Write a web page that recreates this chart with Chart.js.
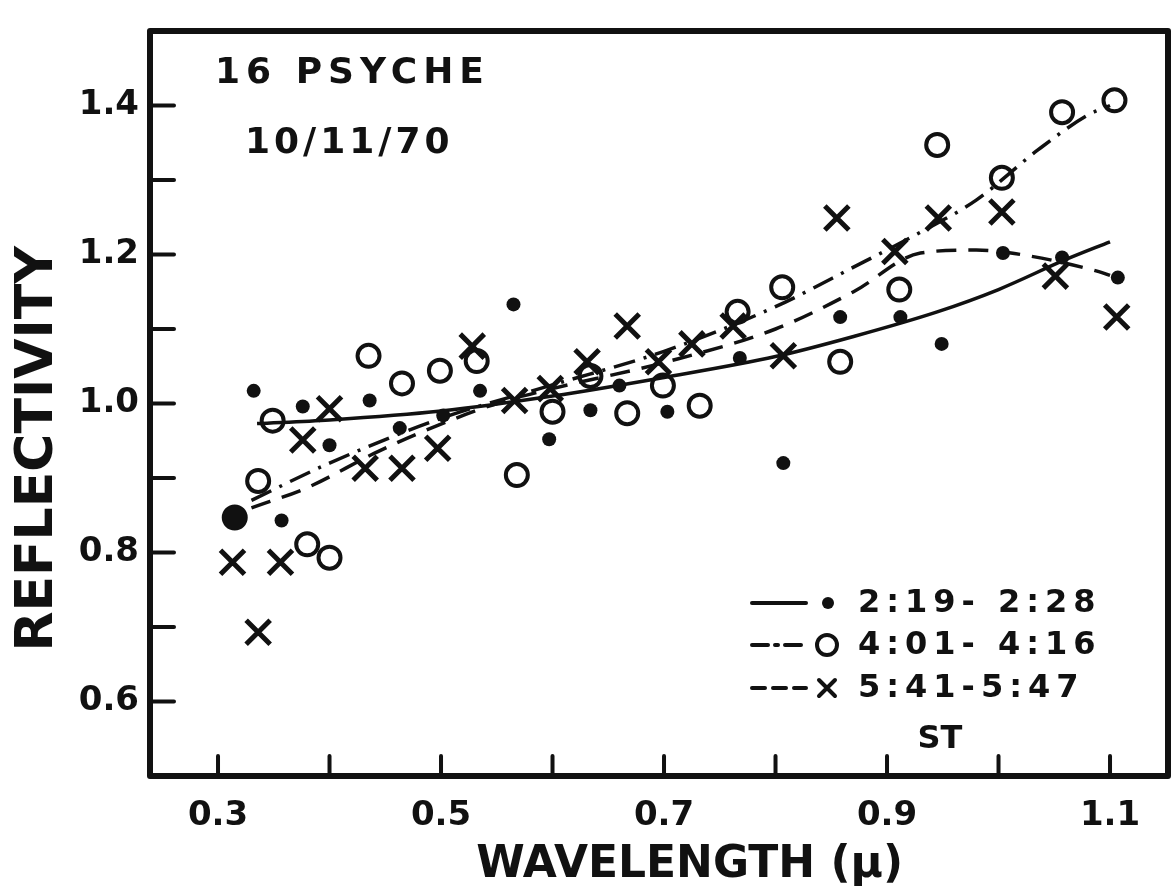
<!DOCTYPE html>
<html>
<head>
<meta charset="utf-8">
<title>16 Psyche reflectivity</title>
<script src="https://cdn.jsdelivr.net/npm/chart.js@4.4.0/dist/chart.umd.min.js"></script>
<style>
  html, body { margin: 0; padding: 0; background: #fff; }
  #wrap { width: 1174px; height: 896px; }
</style>
</head>
<body>
<div id="wrap"><canvas id="psycheChart" width="1174" height="896"></canvas></div>
<script>
// ---- Data ----
const xTickValues = [0.3, 0.4, 0.5, 0.6, 0.7, 0.8, 0.9, 1.0, 1.1];
const xTickLabels = ['0.3', '', '0.5', '', '0.7', '', '0.9', '', '1.1'];
const yTickValues = [0.6, 0.7, 0.8, 0.9, 1.0, 1.1, 1.2, 1.3, 1.4];
const yTickLabels = ['0.6', '', '0.8', '', '1.0', '', '1.2', '', '1.4'];

const seriesNames = ['2:19- 2:28', '4:01- 4:16', '5:41-5:47'];

// 2:19 - 2:28 (dots)
const dotX = [0.315, 0.332, 0.357, 0.376, 0.400, 0.436, 0.463, 0.502, 0.535, 0.565, 0.597,
              0.634, 0.660, 0.703, 0.768, 0.807, 0.858, 0.912, 0.949, 1.004, 1.057, 1.107];
const dotY = [0.847, 1.017, 0.843, 0.996, 0.944, 1.004, 0.967, 0.984, 1.017, 1.133, 0.952,
              0.991, 1.024, 0.989, 1.061, 0.920, 1.116, 1.116, 1.080, 1.202, 1.196, 1.169];

// 4:01 - 4:16 (open circles)
const ringX = [0.315, 0.336, 0.349, 0.380, 0.400, 0.435, 0.465, 0.499, 0.532, 0.568, 0.600,
               0.634, 0.667, 0.699, 0.732, 0.766, 0.806, 0.858, 0.911, 0.945, 1.003, 1.057, 1.104];
const ringY = [0.847, 0.896, 0.977, 0.811, 0.793, 1.064, 1.027, 1.044, 1.057, 0.904, 0.989,
               1.037, 0.987, 1.024, 0.997, 1.123, 1.156, 1.056, 1.153, 1.347, 1.303, 1.391, 1.407];

// 5:41 - 5:47 (crosses)
const crossX = [0.313, 0.336, 0.356, 0.376, 0.400, 0.432, 0.465, 0.497, 0.528, 0.566, 0.598,
                0.631, 0.667, 0.695, 0.725, 0.762, 0.807, 0.855, 0.907, 0.946, 1.003, 1.051, 1.106];
const crossY = [0.787, 0.693, 0.787, 0.951, 0.993, 0.913, 0.913, 0.940, 1.077, 1.004, 1.020,
                1.056, 1.104, 1.056, 1.080, 1.104, 1.064, 1.249, 1.204, 1.249, 1.257, 1.171, 1.116];

// hand-drawn fit curves
const solidFitX = [0.335, 0.40, 0.50, 0.60, 0.70, 0.80, 0.87, 0.945, 1.00, 1.06, 1.10];
const solidFitY = [0.973, 0.978, 0.990, 1.010, 1.035, 1.063, 1.090, 1.123, 1.153, 1.193, 1.217];

const dashDotFitX = [0.33, 0.40, 0.50, 0.60, 0.70, 0.80, 0.87, 0.93, 0.98, 1.035, 1.08, 1.10];
const dashDotFitY = [0.870, 0.920, 0.980, 1.025, 1.070, 1.130, 1.183, 1.230, 1.273, 1.340, 1.387, 1.400];

const dashFitX = [0.33, 0.38, 0.44, 0.48, 0.55, 0.60, 0.70, 0.80, 0.87, 0.93, 0.98, 1.02, 1.09, 1.10];
const dashFitY = [0.860, 0.887, 0.933, 0.960, 1.000, 1.020, 1.055, 1.100, 1.150, 1.202, 1.206, 1.200, 1.177, 1.172];

const toPoints = (xs, ys) => xs.map((x, i) => ({ x: x, y: ys[i] }));

const INK = '#111';
const FONT = '"DejaVu Sans", "Liberation Sans", sans-serif';

// ---- Frame, inward ticks and in-plot text ----
const decorPlugin = {
  id: 'decor',
  afterDraw(chart) {
    const { ctx, chartArea: a, scales } = chart;
    ctx.save();
    ctx.strokeStyle = INK;
    ctx.lineCap = 'round';

    // inward tick marks
    ctx.lineWidth = 4;
    scales.x.ticks.forEach(t => {
      const px = scales.x.getPixelForValue(t.value);
      ctx.beginPath(); ctx.moveTo(px, a.bottom); ctx.lineTo(px, a.bottom - 20); ctx.stroke();
    });
    scales.y.ticks.forEach(t => {
      const py = scales.y.getPixelForValue(t.value);
      ctx.beginPath(); ctx.moveTo(a.left, py); ctx.lineTo(a.left + 24, py); ctx.stroke();
    });

    // frame
    ctx.lineWidth = 6;
    ctx.lineJoin = 'round';
    ctx.strokeRect(a.left, a.top, a.right - a.left, a.bottom - a.top);

    // title block
    ctx.fillStyle = INK;
    ctx.textBaseline = 'middle';
    ctx.textAlign = 'left';
    ctx.font = 'bold 36px ' + FONT;
    ctx.letterSpacing = '6px';
    ctx.fillText('16 PSYCHE', 215, 74);
    ctx.letterSpacing = '4px';
    ctx.fillText('10/11/70', 245, 144);

    // legend
    const rows = [603, 645, 688];
    const dashes = [[], [16, 7, 3, 7], [13, 8]];
    ctx.font = 'bold 32px ' + FONT;
    ctx.letterSpacing = '6px';
    rows.forEach((ry, i) => {
      ctx.lineWidth = 4;
      ctx.setLineDash(dashes[i]);
      ctx.beginPath(); ctx.moveTo(752, ry); ctx.lineTo(806, ry); ctx.stroke();
      ctx.setLineDash([]);
      if (i === 0) {
        ctx.beginPath(); ctx.arc(828, ry, 6, 0, Math.PI * 2); ctx.fill();
      } else if (i === 1) {
        ctx.lineWidth = 4;
        ctx.beginPath(); ctx.arc(827, ry, 10, 0, Math.PI * 2); ctx.stroke();
      } else {
        ctx.lineWidth = 4;
        ctx.beginPath();
        ctx.moveTo(819, ry - 8); ctx.lineTo(835, ry + 8);
        ctx.moveTo(835, ry - 8); ctx.lineTo(819, ry + 8);
        ctx.stroke();
      }
      ctx.fillText(seriesNames[i], 858, ry + 1);
    });
    ctx.letterSpacing = '0px';
    ctx.textAlign = 'center';
    ctx.fillText('ST', 940, 740);
    ctx.restore();
  }
};

const ctx = document.getElementById('psycheChart');

new Chart(ctx, {
  type: 'scatter',
  data: {
    datasets: [
      {
        label: seriesNames[0],
        data: toPoints(dotX, dotY),
        pointStyle: 'circle',
        pointRadius: c => (c.dataIndex === 0 ? 12 : 7),
        backgroundColor: INK,
        borderColor: INK,
        borderWidth: 0
      },
      {
        label: seriesNames[1],
        data: toPoints(ringX, ringY),
        pointStyle: 'circle',
        pointRadius: 11,
        backgroundColor: 'rgba(255,255,255,0)',
        borderColor: INK,
        borderWidth: 4
      },
      {
        label: seriesNames[2],
        data: toPoints(crossX, crossY),
        pointStyle: 'crossRot',
        pointRadius: 17,
        borderColor: INK,
        borderWidth: 5
      },
      {
        label: 'fit 2:19',
        type: 'line',
        data: toPoints(solidFitX, solidFitY),
        borderColor: INK,
        borderWidth: 3.5,
        pointRadius: 0,
        cubicInterpolationMode: 'monotone'
      },
      {
        label: 'fit 4:01',
        type: 'line',
        data: toPoints(dashDotFitX, dashDotFitY),
        borderColor: INK,
        borderWidth: 3.5,
        borderDash: [22, 9, 3, 9],
        pointRadius: 0,
        cubicInterpolationMode: 'monotone'
      },
      {
        label: 'fit 5:41',
        type: 'line',
        data: toPoints(dashFitX, dashFitY),
        borderColor: INK,
        borderWidth: 3.5,
        borderDash: [20, 12],
        pointRadius: 0,
        cubicInterpolationMode: 'monotone'
      }
    ]
  },
  options: {
    responsive: false,
    animation: false,
    layout: { autoPadding: false, padding: { top: 31, right: 6, left: 0, bottom: 0 } },
    plugins: {
      legend: { display: false },
      tooltip: { enabled: false }
    },
    scales: {
      x: {
        type: 'linear',
        min: 0.239,
        max: 1.152,
        afterBuildTicks: s => { s.ticks = xTickValues.map(v => ({ value: v })); },
        afterFit: s => { s.height = 120; s.paddingLeft = 0; s.paddingRight = 0; },
        grid: { display: false, drawTicks: false },
        border: { display: false },
        ticks: {
          color: INK,
          padding: 20,
          autoSkip: false,
          maxRotation: 0,
          font: { family: FONT, size: 34, weight: 'bold' },
          callback: (v, i) => xTickLabels[i]
        },
        title: {
          display: true,
          text: '    WAVELENGTH (µ)',
          color: INK,
          font: { family: FONT, size: 44, weight: 'bold', lineHeight: 1 },
          padding: { top: 0, bottom: 8 }
        }
      },
      y: {
        type: 'linear',
        min: 0.5,
        max: 1.5,
        afterBuildTicks: s => { s.ticks = yTickValues.map(v => ({ value: v })); },
        afterFit: s => { s.width = 150; s.paddingTop = 0; s.paddingBottom = 0; },
        grid: { display: false, drawTicks: false },
        border: { display: false },
        ticks: {
          color: INK,
          padding: 11,
          autoSkip: false,
          font: { family: FONT, size: 34, weight: 'bold' },
          callback: (v, i) => yTickLabels[i]
        },
        title: {
          display: true,
          text: 'REFLECTIVITY     ',
          color: INK,
          font: { family: FONT, size: 52, weight: 'bold', lineHeight: 1 },
          padding: { top: 12, bottom: 0 }
        }
      }
    }
  },
  plugins: [decorPlugin]
});
</script>
</body>
</html>
